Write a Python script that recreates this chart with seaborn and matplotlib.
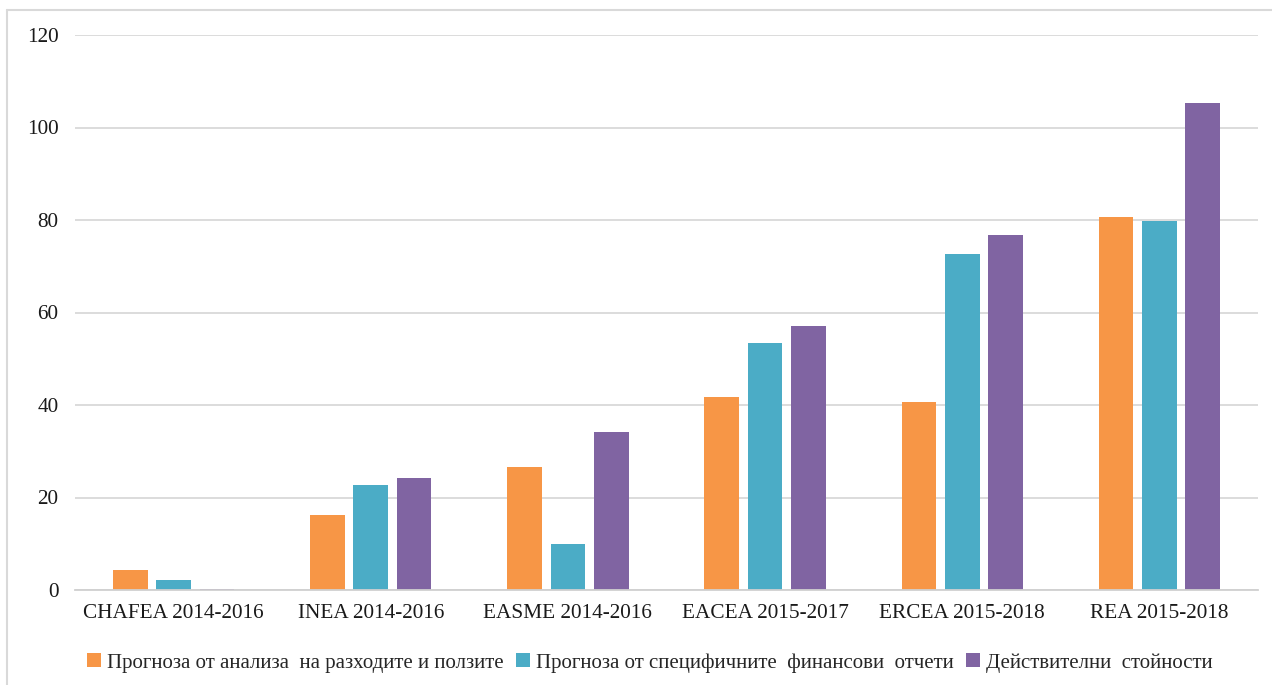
import pandas as pd
import seaborn as sns
import matplotlib.pyplot as plt
from matplotlib.patches import Patch
from matplotlib.lines import Line2D

# data
categories = ['CHAFEA 2014-2016', 'INEA 2014-2016', 'EASME 2014-2016',
              'EACEA 2015-2017', 'ERCEA 2015-2018', 'REA 2015-2018']
series = ['Прогноза от анализа  на разходите и ползите',
          'Прогноза от специфичните  финансови  отчети',
          'Действителни  стойности']
forecast_cba = [4.4, 16.2, 26.7, 41.8, 40.7, 80.6]
forecast_fin = [2.1, 22.8, 9.9, 53.5, 72.6, 79.8]
actual = [0.15, 24.3, 34.1, 57.0, 76.8, 105.2]
yticks = [0, 20, 40, 60, 80, 100, 120]

colors = ['#F79646', '#4BACC6', '#8064A2']

df = pd.DataFrame({
    'cat': categories * 3,
    'series': [series[0]] * 6 + [series[1]] * 6 + [series[2]] * 6,
    'val': forecast_cba + forecast_fin + actual,
})

sns.set_style('white')
plt.rcParams['font.family'] = ['Liberation Serif', 'DejaVu Serif']

fig = plt.figure(figsize=(12.72, 6.85), dpi=100)
ax = fig.add_axes([75 / 1272, 1 - 590 / 685, 1183 / 1272, 555 / 685])

sns.barplot(data=df, x='cat', y='val', hue='series', palette=colors,
            width=0.66, gap=0.2, ax=ax, legend=False, saturation=1,
            edgecolor='none')

ax.set_ylim(0, 120)
ax.set_xlim(-0.5, 5.5)
ax.set_yticks(yticks)
ax.yaxis.grid(True, color='#d9d9d9', linewidth=1.3)
ax.set_axisbelow(True)
for s in ['top', 'right', 'left']:
    ax.spines[s].set_visible(False)
ax.spines['bottom'].set_color('#d0d0d0')
ax.spines['bottom'].set_linewidth(1.3)
ax.tick_params(axis='both', length=0, labelsize=15.3, colors='#1a1a1a')
ax.tick_params(axis='y', pad=12)
ax.tick_params(axis='x', pad=10)
ax.set_xlabel('')
ax.set_ylabel('')

# legend
handles = [Patch(facecolor=c, edgecolor='none') for c in colors]
fig.legend(handles, series, loc='center', bbox_to_anchor=(650 / 1272, 1 - 663 / 685),
           ncol=3, frameon=False, fontsize=15, handlelength=0.65, handleheight=0.65,
           handletextpad=0.3, columnspacing=0.6)

# chart border
fig.add_artist(Line2D([7 / 1272, 7 / 1272], [0, 1 - 10 / 685], color='#d9d9d9', lw=1.5))
fig.add_artist(Line2D([7 / 1272, 1], [1 - 10 / 685, 1 - 10 / 685], color='#d9d9d9', lw=1.5))

fig.savefig('out.png', dpi=100)
